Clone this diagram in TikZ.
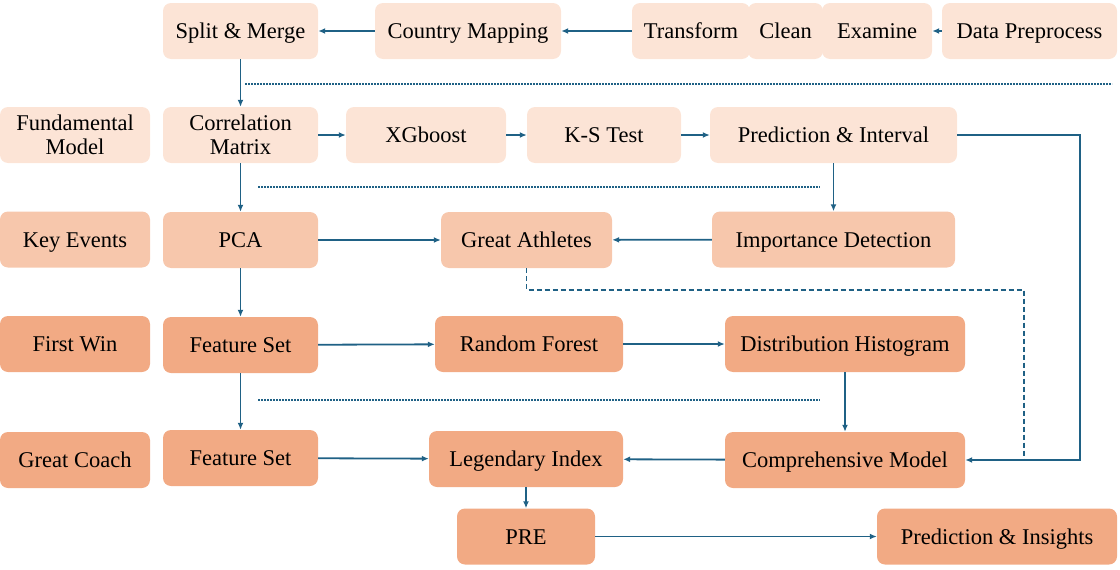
\documentclass[tikz,border=0pt]{standalone}
\usepackage{fontspec}
\setmainfont{Liberation Serif}
\usetikzlibrary{arrows.meta}
\definecolor{boxlight}{RGB}{252,228,214}
\definecolor{boxmid}{RGB}{247,199,172}
\definecolor{boxdark}{RGB}{242,170,132}
\definecolor{lineblue}{RGB}{31,97,133}
\tikzset{
  box/.style={rounded corners=8pt, inner sep=0pt, minimum height=56pt, align=center,
    text height=18pt, text depth=3pt, font=\fontsize{22.5}{25}\selectfont},
  twoline/.style={text height=, text depth=},
  lightbox/.style={box, fill=boxlight},
  midbox/.style={box, fill=boxmid},
  darkbox/.style={box, fill=boxdark},
  flow/.style={draw=lineblue, line width=1.8pt, -{Latex[length=7pt,width=6pt]}},
  dashline/.style={draw=lineblue, line width=1.8pt, dash pattern=on 5pt off 3pt},
  sepline/.style={draw=lineblue, line width=1.6pt, dash pattern=on 1.6pt off 1.4pt}
}
\begin{document}
\begin{tikzpicture}[x=1pt, y=-1pt]
\useasboundingbox (0,0) rectangle (1120,570);
% row 1: data preprocessing
\node[lightbox, minimum width=155pt] (sm) at (240.5,31) {Split \& Merge};
\node[lightbox, minimum width=186pt] (cm) at (468,31) {Country Mapping};
\node[lightbox, minimum width=118pt] (tr) at (691,31) {Transform};
\node[lightbox, minimum width=75pt] (cl) at (785.5,31) {Clean};
\node[lightbox, minimum width=110pt] (ex) at (877,31) {Examine};
\node[lightbox, minimum width=175pt] (dp) at (1029.5,31) {Data Preprocess};
% row 2: fundamental model
\node[lightbox, twoline, minimum width=150pt] (fm) at (75,135) {Fundamental\\[-1pt]Model};
\node[lightbox, twoline, minimum width=155pt] (cor) at (240.5,135) {Correlation\\[-1pt]Matrix};
\node[lightbox, minimum width=160pt] (xg) at (426,135) {XGboost};
\node[lightbox, minimum width=154pt] (ks) at (604,135) {K-S Test};
\node[lightbox, minimum width=247pt] (pi) at (833.5,135) {Prediction \& Interval};
% row 3: key events
\node[midbox, minimum width=150pt] (ke) at (75,239.5) {Key Events};
\node[midbox, minimum width=155pt] (pca) at (240.5,240) {PCA};
\node[midbox, minimum width=171pt] (ga) at (526.5,240) {Great Athletes};
\node[midbox, minimum width=243pt] (id) at (833.5,239.5) {Importance Detection};
% row 4: first win
\node[darkbox, minimum width=150pt] (fw) at (75,344) {First Win};
\node[darkbox, minimum width=155pt] (fs1) at (240.5,345) {Feature Set};
\node[darkbox, minimum width=188pt] (rf) at (529,344) {Random Forest};
\node[darkbox, minimum width=240pt] (dh) at (845,344) {Distribution Histogram};
% row 5: great coach
\node[darkbox, minimum width=150pt] (gc) at (75,460) {Great Coach};
\node[darkbox, minimum width=155pt] (fs2) at (240.5,458) {Feature Set};
\node[darkbox, minimum width=194pt] (li) at (526,459) {Legendary Index};
\node[darkbox, minimum width=240pt] (cmod) at (845,460) {Comprehensive Model};
% row 6: output
\node[darkbox, minimum width=138pt] (pre) at (526,536.5) {PRE};
\node[darkbox, minimum width=240pt] (pins) at (997,536.5) {Prediction \& Insights};
% separators
\coordinate (s1a) at (245,84);  \coordinate (s1b) at (1112,84);
\coordinate (s2a) at (258,187); \coordinate (s2b) at (820,187);
\coordinate (s3a) at (258,400); \coordinate (s3b) at (820,400);
\draw[sepline] (s1a) -- (s1b);
\draw[sepline] (s2a) -- (s2b);
\draw[sepline] (s3a) -- (s3b);
% connectors
\draw[flow] (cm) -- (sm);
\draw[flow] (tr) -- (cm);
\draw[flow] (dp) -- (ex);
\draw[flow] (sm) -- (cor);
\draw[flow] (cor) -- (xg);
\draw[flow] (xg) -- (ks);
\draw[flow] (ks) -- (pi);
\draw[flow] (pi) -- (id);
\draw[flow] (cor) -- (pca);
\draw[flow] (pca) -- (ga);
\draw[flow] (id) -- (ga);
\draw[flow] (pca) -- (fs1);
\draw[flow] (fs1) -- (rf);
\draw[flow] (rf) -- (dh);
\draw[flow] (dh) -- (cmod);
\draw[flow] (fs1) -- (fs2);
\draw[flow] (fs2) -- (li);
\draw[flow] (cmod) -- (li);
\draw[flow] (li) -- (pre);
\draw[flow] (pre) -- (pins);
% feedback lines
\coordinate (rt) at (1080,300);
\coordinate (dsh) at (1024,290);
\draw[dashline] (ga.south) |- (dsh) -- (dsh |- cmod.east);
\draw[flow] (pi.east) -| (rt) |- (cmod.east);
\end{tikzpicture}
\end{document}
